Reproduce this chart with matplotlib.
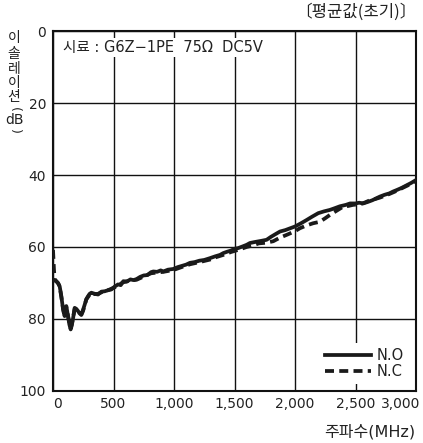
import matplotlib.pyplot as plt
import matplotlib.transforms as mtransforms

plt.rcParams['font.family'] = ['DejaVu Sans', 'Noto Sans CJK KR']

# N.O (실선) 측정값
no_mhz = [0, 14, 27, 42, 55, 69, 83, 96, 110, 124, 135, 146, 155, 165, 179, 193, 207, 220, 234,
          248, 262, 275, 289, 303, 317, 345, 372, 400, 427, 455, 482, 510, 537, 560, 581, 610,
          640, 665, 691, 720, 750, 780, 810, 829, 860, 890, 912, 950, 994, 1030, 1070, 1100,
          1132, 1170, 1210, 1250, 1297, 1340, 1380, 1407, 1440, 1470, 1500, 1531, 1570, 1600,
          1627, 1670, 1720, 1765, 1800, 1840, 1876, 1920, 1960, 2000, 2050, 2096, 2140, 2192,
          2240, 2288, 2330, 2370, 2420, 2455, 2500, 2530, 2563, 2600, 2640, 2670, 2701, 2740,
          2780, 2810, 2839, 2880, 2920, 2960, 2990]
no_db = [69.0, 69.3, 69.5, 70.0, 70.9, 73.7, 77.3, 79.2, 76.4, 79.2, 81.5, 82.9, 81.8, 80.0,
         76.9, 77.2, 77.8, 78.5, 78.7, 77.5, 76.0, 74.5, 73.7, 73.0, 72.7, 73.0, 73.2, 72.4,
         72.3, 72.0, 71.8, 71.0, 70.4, 70.6, 69.5, 69.6, 69.0, 69.2, 68.9, 68.3, 67.9, 67.8,
         67.0, 66.8, 66.9, 66.5, 66.8, 66.3, 66.1, 65.6, 65.2, 64.9, 64.4, 64.2, 63.8, 63.6,
         63.1, 62.6, 62.2, 61.7, 61.3, 61.0, 60.5, 60.3, 59.8, 59.4, 58.9, 58.6, 58.3, 58.0,
         57.2, 56.4, 55.7, 55.3, 54.8, 54.3, 53.4, 52.5, 51.6, 50.6, 50.1, 49.7, 49.2, 48.7,
         48.3, 47.9, 47.9, 47.7, 47.9, 47.5, 47.0, 46.5, 46.0, 45.5, 45.1, 44.6, 44.2, 43.6,
         42.9, 42.2, 41.6]

# N.C (점선) 측정값
nc_mhz = [0, 4, 8, 14, 27, 42, 55, 69, 83, 96, 110, 124, 135, 146, 155, 165, 179, 193, 207,
          220, 234, 248, 262, 275, 289, 303, 317, 345, 372, 400, 427, 455, 482, 510, 537, 581,
          640, 691, 750, 810, 860, 912, 994, 1070, 1132, 1210, 1297, 1350, 1407, 1470, 1531,
          1600, 1650, 1700, 1765, 1820, 1876, 1940, 2000, 2040, 2096, 2150, 2205, 2250, 2288,
          2340, 2398, 2440, 2479, 2540, 2580, 2620, 2660, 2700, 2740, 2785, 2840, 2900, 2950,
          2990]
nc_db = [60.8, 63.5, 66.3, 69.0, 69.5, 70.1, 71.0, 73.9, 77.0, 79.5, 76.8, 79.0, 81.2, 82.6,
         81.5, 79.8, 77.2, 77.5, 77.9, 78.3, 78.9, 77.8, 76.2, 74.6, 73.9, 73.2, 72.8, 73.1,
         73.0, 72.6, 72.1, 72.0, 71.6, 71.2, 70.6, 69.8, 69.3, 69.1, 68.2, 67.3, 67.1, 66.9,
         66.4, 65.5, 64.8, 64.2, 63.5, 62.8, 62.2, 61.4, 60.8, 60.0, 59.6, 59.0, 58.8, 58.4,
         57.4, 56.5, 55.6, 54.8, 54.0, 53.4, 53.0, 52.0, 51.1, 50.0, 48.8, 48.6, 48.3, 48.1,
         47.6, 47.0, 46.7, 46.3, 45.8, 45.2, 44.4, 43.4, 42.6, 41.8]

x_ticks = [0, 500, 1000, 1500, 2000, 2500, 3000]
x_labels = ['0', '500', '1,000', '1,500', '2,000', '2,500', '3,000']
y_ticks = [0, 20, 40, 60, 80, 100]

ink = '#222222'
fs = 10

fig = plt.figure(figsize=(4.23, 4.43), dpi=100)
ax = fig.add_axes([0.1253, 0.1174, 0.8582, 0.8126])

ax.plot(no_mhz, no_db, color='#1a1a1a', lw=2.7, label='N.O', zorder=3)
ax.plot(nc_mhz, nc_db, color='#1a1a1a', lw=2.7, ls=(0, (2.4, 1.4)), label='N.C', zorder=3)

ax.set_xlim(0, 3000)
ax.set_ylim(100, 0)
ax.set_xticks(x_ticks)
ax.set_xticklabels(x_labels)
ax.set_yticks(y_ticks)
ax.grid(True, color='#111111', lw=1.0)
ax.tick_params(length=0, labelsize=fs, colors=ink)
ax.tick_params(axis='x', pad=4)
ax.tick_params(axis='y', pad=5)
for s in ax.spines.values():
    s.set_linewidth(1.5)
    s.set_color('#111111')

xl = ax.get_xticklabels()
xl[0].set_horizontalalignment('left')
xl[-1].set_horizontalalignment('right')
# 3,000 라벨은 축 끝보다 약간 오른쪽까지
xl[-1].set_transform(xl[-1].get_transform() +
                     mtransforms.ScaledTranslation(4 / 100, 0, fig.dpi_scale_trans))

ax.text(0.027, 0.955, '시료 : G6Z−1PE  75Ω  DC5V', transform=ax.transAxes,
        fontsize=fs + 0.5, va='center', ha='left', color=ink, zorder=4,
        bbox=dict(facecolor='white', edgecolor='none', pad=1.5))

leg = ax.legend(loc='lower right', fontsize=fs + 0.5, handlelength=3.2, handletextpad=0.4,
                labelspacing=0.1, borderpad=0.3, borderaxespad=0.5, frameon=True,
                fancybox=False, framealpha=1)
leg.get_frame().set_edgecolor('none')
for t in leg.get_texts():
    t.set_color(ink)

# 세로로 쌓은 y축 제목
ylab = ['이', '솔', '레', '이', '션']
ylab_y = [38, 54, 69, 83, 97]
for ch, yp in zip(ylab, ylab_y):
    fig.text(14 / 423, 1 - yp / 443, ch, fontsize=fs, ha='center', va='center', color=ink)
fig.text(14 / 423, 1 - 109 / 443, '(', fontsize=fs - 1, ha='center', va='center', color=ink,
         rotation=-90)
fig.text(14 / 423, 1 - 120 / 443, 'dB', fontsize=fs, ha='center', va='center', color=ink)
fig.text(14 / 423, 1 - 131 / 443, ')', fontsize=fs - 1, ha='center', va='center', color=ink,
         rotation=-90)

fig.text(417 / 423, 1 - 12 / 443, '〔평균값(초기)〕', fontsize=fs + 2, ha='right',
         va='center', color=ink, family=['Noto Sans CJK KR'])
fig.text(415 / 423, 1 - 432 / 443, '주파수(MHz)', fontsize=fs + 1.5, ha='right', va='center',
         color=ink)

fig.savefig('out.png', dpi=100)
